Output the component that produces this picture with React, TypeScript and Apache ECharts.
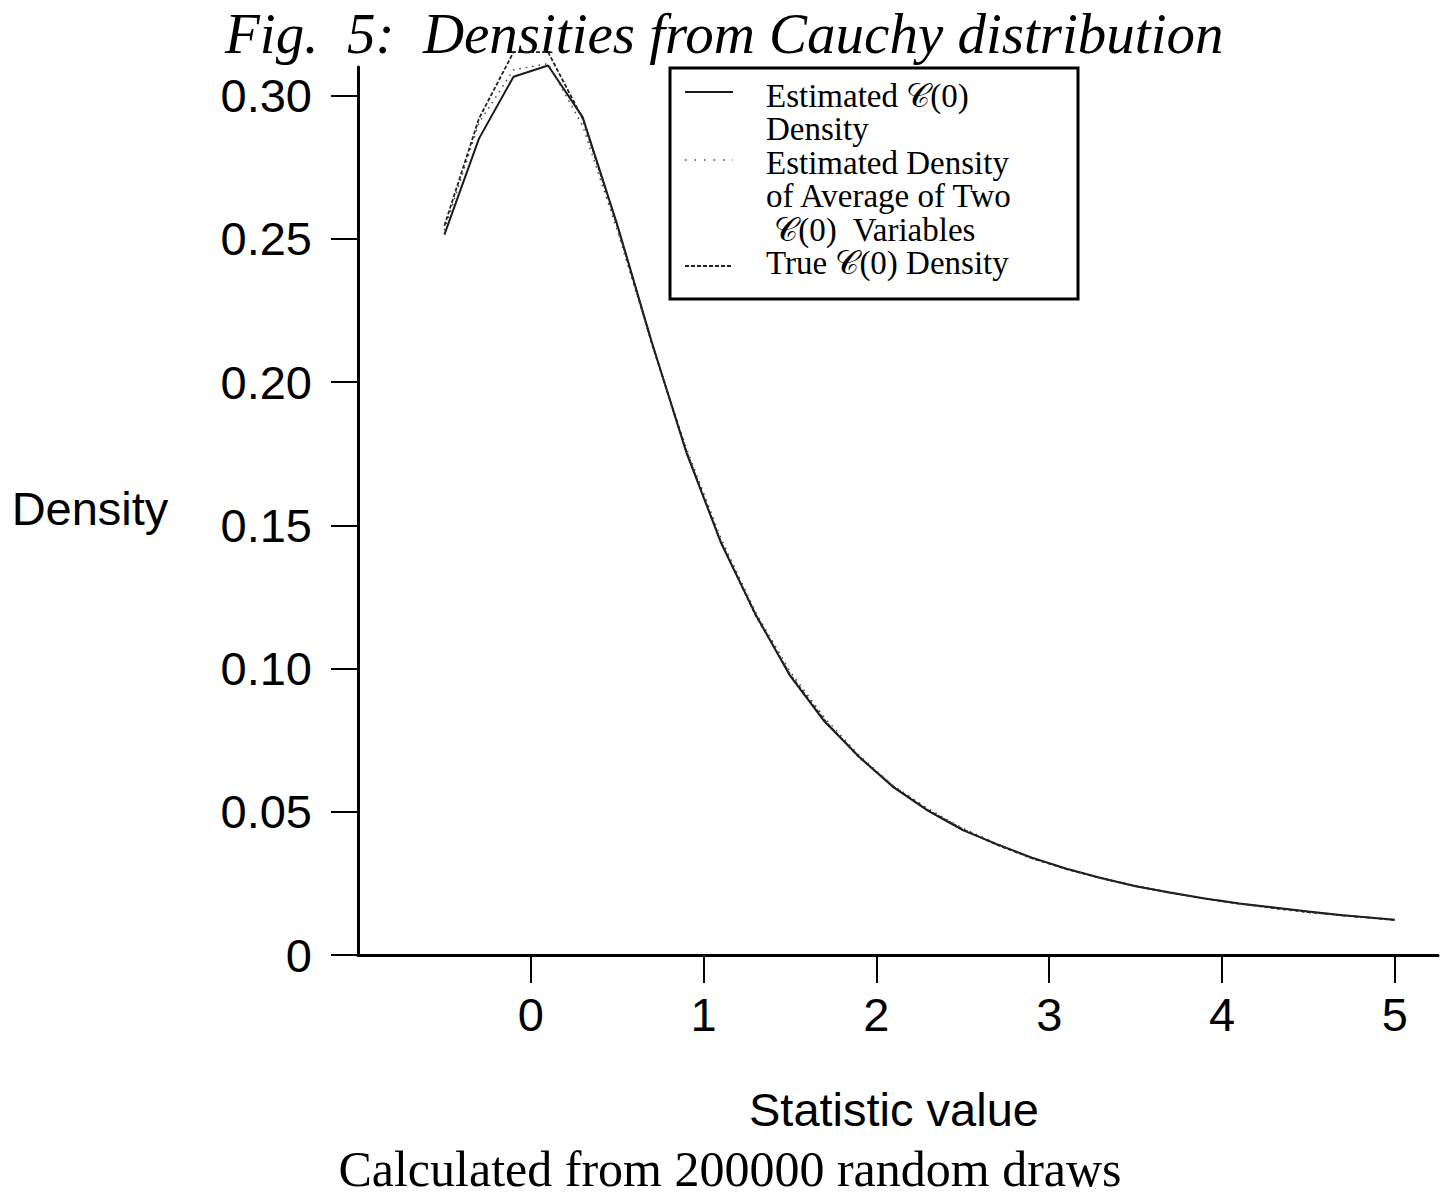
import React, { useEffect, useRef } from "react";
import * as echarts from "echarts";

const xValues = [-0.5, -0.3, -0.1, 0.1, 0.3, 0.5, 0.7, 0.9, 1.1, 1.3, 1.5, 1.7, 1.9, 2.1, 2.3, 2.5, 2.7, 2.9, 3.1, 3.3, 3.5, 3.7, 3.9, 4.1, 4.3, 4.5, 4.7, 4.9, 5.0];
const estimatedDensity = [0.2515, 0.285, 0.3066, 0.3105, 0.2925, 0.255, 0.214, 0.1755, 0.144, 0.119, 0.0975, 0.0815, 0.0692, 0.0585, 0.0503, 0.0436, 0.0386, 0.034, 0.0301, 0.0269, 0.024, 0.0218, 0.0197, 0.018, 0.0166, 0.0152, 0.0139, 0.0128, 0.0123];
const averageOfTwoDensity = [0.253, 0.2905, 0.309, 0.3112, 0.2895, 0.253, 0.2135, 0.177, 0.1455, 0.1198, 0.099, 0.0828, 0.0697, 0.059, 0.051, 0.0442, 0.0388, 0.0336, 0.0302, 0.0267, 0.024, 0.0216, 0.0196, 0.0178, 0.0163, 0.0148, 0.0137, 0.0127, 0.0122];
const trueDensity = [0.2546, 0.292, 0.3152, 0.3152, 0.292, 0.2546, 0.2136, 0.1759, 0.1442, 0.1187, 0.0979, 0.0819, 0.069, 0.0587, 0.0505, 0.0439, 0.0384, 0.0338, 0.03, 0.0268, 0.0241, 0.0217, 0.0197, 0.0179, 0.0164, 0.015, 0.0138, 0.0128, 0.0122];
const xTicks = [0, 1, 2, 3, 4, 5];
const yTicks = [0, 0.05, 0.1, 0.15, 0.2, 0.25, 0.3];

const legendLines = [
  "Estimated 𝒞(0)",
  "Density",
  "Estimated Density",
  "of Average of Two",
  " 𝒞(0)  Variables",
  "True 𝒞(0) Density",
];

const SANS = "'Liberation Sans', Arial, sans-serif";
const SERIF = "'Liberation Serif', 'DejaVu Serif', serif";

export default function App() {
  const ref = useRef<HTMLDivElement>(null);
  useEffect(() => {
    const chart = echarts.init(ref.current!, null, { renderer: "svg" });
    const pairs = (ys: number[]) => xValues.map((x, i) => [x, ys[i]]);
    const legendTexts = legendLines.map((t, i) => ({
      type: "text",
      x: 766,
      y: 96 + i * 33.4,
      z: 20,
      style: {
        text: t,
        fontFamily: SERIF,
        fontSize: 33,
        fill: "#000",
        align: "left",
        verticalAlign: "middle",
      },
    }));
    chart.setOption({
      animation: false,
      backgroundColor: "#fff",
      grid: { left: 358, right: 9, top: 67, bottom: 241, containLabel: false },
      xAxis: {
        type: "value",
        min: -1,
        max: 5.25,
        axisLine: { show: true, onZero: false, lineStyle: { color: "#000", width: 3 } },
        axisTick: { show: true, customValues: xTicks, length: 28, lineStyle: { color: "#000", width: 2 } },
        axisLabel: { customValues: xTicks, margin: 36, fontSize: 47, fontFamily: SANS, color: "#000" },
        splitLine: { show: false },
      },
      yAxis: {
        type: "value",
        min: 0,
        max: 0.31,
        axisLine: { show: true, onZero: false, lineStyle: { color: "#000", width: 3 } },
        axisTick: { show: true, customValues: yTicks, length: 27, lineStyle: { color: "#000", width: 2 } },
        axisLabel: {
          customValues: yTicks,
          margin: 46,
          fontSize: 47,
          fontFamily: SANS,
          color: "#000",
          formatter: (v: number) => (v === 0 ? "0" : v.toFixed(2)),
        },
        splitLine: { show: false },
      },
      series: [
        {
          name: "Estimated 𝒞(0) Density",
          type: "line",
          data: pairs(estimatedDensity),
          showSymbol: false,
          clip: false,
          lineStyle: { color: "#1a1a1a", width: 2 },
        },
        {
          name: "Estimated Density of Average of Two 𝒞(0) Variables",
          type: "line",
          data: pairs(averageOfTwoDensity),
          showSymbol: false,
          clip: false,
          lineStyle: { color: "#444", width: 1.5, type: [1.5, 5] },
        },
        {
          name: "True 𝒞(0) Density",
          type: "line",
          data: pairs(trueDensity),
          showSymbol: false,
          clip: false,
          lineStyle: { color: "#222", width: 1.8, type: [4, 2] },
        },
      ],
      graphic: [
        {
          type: "text",
          x: 225,
          y: 33,
          style: {
            text: "Fig.  5:  Densities from Cauchy distribution",
            fontFamily: SERIF,
            fontStyle: "italic",
            fontSize: 57,
            fill: "#000",
            align: "left",
            verticalAlign: "middle",
          },
        },
        {
          type: "text",
          x: 90,
          y: 508,
          style: { text: "Density", fontFamily: SANS, fontSize: 47, fill: "#000", align: "center", verticalAlign: "middle" },
        },
        {
          type: "text",
          x: 894,
          y: 1109,
          style: { text: "Statistic value", fontFamily: SANS, fontSize: 47, fill: "#000", align: "center", verticalAlign: "middle" },
        },
        {
          type: "text",
          x: 730,
          y: 1169,
          style: { text: "Calculated from 200000 random draws", fontFamily: SERIF, fontSize: 50, fill: "#000", align: "center", verticalAlign: "middle" },
        },
        {
          type: "rect",
          z: 10,
          shape: { x: 670, y: 68, width: 408, height: 231 },
          style: { fill: "#fff", stroke: "#000", lineWidth: 3 },
        },
        {
          type: "line",
          z: 20,
          shape: { x1: 685, y1: 92, x2: 733, y2: 92 },
          style: { stroke: "#1a1a1a", lineWidth: 2 },
        },
        {
          type: "line",
          z: 20,
          shape: { x1: 685, y1: 160, x2: 733, y2: 160 },
          style: { stroke: "#444", lineWidth: 1.5, lineDash: [1.5, 8] },
        },
        {
          type: "line",
          z: 20,
          shape: { x1: 685, y1: 266, x2: 733, y2: 266 },
          style: { stroke: "#222", lineWidth: 1.8, lineDash: [4, 2] },
        },
        ...legendTexts,
      ],
    });
    return () => chart.dispose();
  }, []);
  return (
    <div
      ref={ref}
      style={{ position: "absolute", left: 0, top: 0, width: 1447, height: 1196, background: "#fff" }}
    />
  );
}
